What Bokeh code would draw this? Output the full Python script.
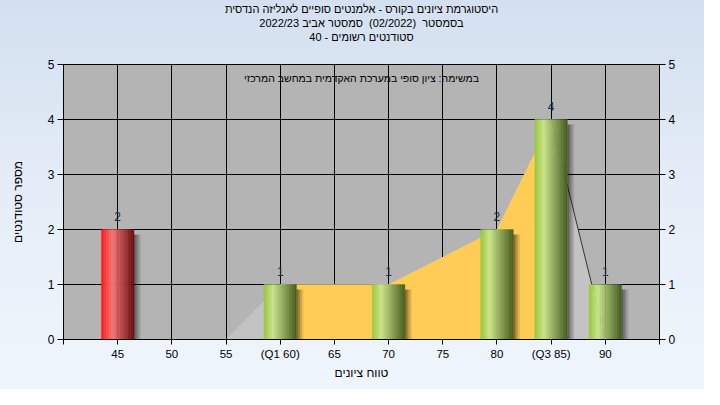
import numpy as np
from bokeh.plotting import figure
from bokeh.models import FixedTicker, LinearAxis, Range1d, Label, Title
from bokeh.core.properties import value
from bokeh.embed import file_html
from bokeh.resources import INLINE

# ---------------- data ----------------
NBSP = "\u00a0"
title_lines = [
    "היסטוגרמת ציונים בקורס - אלמנטים סופיים לאנליזה הנדסית",
    "בסמסטר  (02/2022)  סמסטר אביב 2022/23",
    "סטודנטים רשומים - 40",
]
note_text = "במשימה: ציון סופי במערכת האקדמית במחשב המרכזי"
x_label = "טווח ציונים"
y_label = "מספר סטודנטים"

bar_scores = [45, 60, 70, 80, 85, 90]
bar_counts = [2, 1, 1, 2, 4, 1]
bar_kind = ["fail", "pass", "pass", "pass", "pass", "pass"]

area_scores = [45, 50, 55, 60, 65, 70, 75, 80, 85, 90]
area_values = [0, 0, 0, 1, 1, 1, 1.5, 2, 4, 0]
q1, q3 = 60, 85

x_ticks = [40, 45, 50, 55, 60, 65, 70, 75, 80, 85, 90, 95]
x_tick_labels = ["", "45", "50", "55", "(Q1 60)", "65", "70", "75", "80", "(Q3 85)", "90", ""]
y_ticks = [0, 1, 2, 3, 4, 5]

# ---------------- styling ----------------
FONT = "Liberation Sans"
BAR_W = 3.0
N_STRIPS = 20
GRAD = {
    "fail": [(0.0, (255, 25, 25)), (0.35, (244, 118, 118)), (1.0, (105, 12, 12))],
    "pass": [(0.0, (150, 200, 58)), (0.28, (202, 228, 142)), (1.0, (68, 92, 30))],
}


def grad_color(kind, t):
    stops = GRAD[kind]
    for (t0, c0), (t1, c1) in zip(stops[:-1], stops[1:]):
        if t0 <= t <= t1:
            f = (t - t0) / (t1 - t0)
            c = [int(round(a + (b - a) * f)) for a, b in zip(c0, c1)]
            return "#%02x%02x%02x" % tuple(c)
    return "#%02x%02x%02x" % stops[-1][1]


p = figure(
    width=704, height=389, title=None,
    x_range=Range1d(x_ticks[0], x_ticks[-1]),
    y_range=Range1d(y_ticks[0], y_ticks[-1]),
    output_backend="svg", toolbar_location=None,
    min_border_left=63, min_border_right=45, min_border_top=64, min_border_bottom=50,
)
p.background_fill_color = "#b4b4b4"
p.border_fill_color = None
p.styles = {"background": "linear-gradient(180deg, #d4e0f0 0%, #e6eef8 55%, #eff6fd 100%)"}
p.outline_line_color = "black"
p.outline_line_width = 1

# title: spacer nearest the plot, then one Title per line (bottom line first)
p.add_layout(Title(text=NBSP, text_font_size="11px", standoff=8), "above")
for line in reversed(title_lines):
    p.add_layout(Title(text=line.replace(" ", NBSP), align="center", offset=-9,
                       text_font=FONT, text_font_size="11px", text_font_style="normal",
                       text_color="black", standoff=0), "above")

# grey distribution area and IQR area
p.varea(x=area_scores, y1=0, y2=area_values, fill_color="#c3c3c3")
iqr_x = [s for s in area_scores if q1 <= s <= q3]
iqr_y = [v for s, v in zip(area_scores, area_values) if q1 <= s <= q3]
p.varea(x=iqr_x, y1=0, y2=iqr_y, fill_color="#ffcc55")

low_x = [s for s, v in zip(area_scores, area_values) if s < q1 and v == 0]
low_y = [v for s, v in zip(area_scores, area_values) if s < q1 and v == 0]
p.line(low_x, low_y, line_color="#8c8c8c", line_width=1.2)
up_x = [s for s in area_scores if s >= q3]
up_y = [v for s, v in zip(area_scores, area_values) if s >= q3]
p.line(up_x, up_y, line_color="#333333", line_width=1)

# shadows
sh_x, sh_top, sh_alpha = [], [], []
sw = 0.16
for s, c in zip(bar_scores, bar_counts):
    for j, a in enumerate([0.5, 0.36, 0.22, 0.1]):
        sh_x.append(s + BAR_W / 2 + (j + 0.5) * sw)
        sh_top.append(c - 0.09)
        sh_alpha.append(a)
p.vbar(x=sh_x, top=sh_top, bottom=0, width=sw, fill_color="black",
       fill_alpha=sh_alpha, line_color=None)

# cylinder-shaded bars
bx, btop, bcol = [], [], []
for s, c, k in zip(bar_scores, bar_counts, bar_kind):
    for i in range(N_STRIPS):
        t = (i + 0.5) / N_STRIPS
        bx.append(s - BAR_W / 2 + t * BAR_W)
        btop.append(c)
        bcol.append(grad_color(k, t))
p.vbar(x=bx, top=btop, bottom=0, width=BAR_W / N_STRIPS * 1.1,
       fill_color=bcol, line_color=bcol, line_width=0.3)

# value labels
p.text(x=bar_scores, y=bar_counts, text=[str(c) for c in bar_counts],
       text_align="center", text_baseline="bottom", y_offset=-9,
       text_font=value(FONT), text_font_size="12px", text_color="#1e2c3c")

# note inside plot
p.add_layout(Label(x=(x_ticks[0] + x_ticks[-1]) / 2, y=y_ticks[-1] - 0.24,
                   text=note_text, text_align="center", text_baseline="middle",
                   text_font=FONT, text_font_size="10.5px", text_color="black"))

# axes
right_axis = LinearAxis()
p.add_layout(right_axis, "right")
for ax in [p.yaxis[0], right_axis]:
    ax.ticker = FixedTicker(ticks=y_ticks)
for ax in [p.xaxis[0]]:
    ax.ticker = FixedTicker(ticks=x_ticks)
    ax.major_label_overrides = dict(zip(x_ticks, x_tick_labels))

for ax in p.xaxis + p.yaxis:
    ax.axis_line_color = "black"
    ax.major_tick_line_color = "black"
    ax.major_tick_in = 0
    ax.major_tick_out = 6
    ax.minor_tick_line_color = None
    ax.major_label_text_font = FONT
    ax.major_label_text_font_size = "12px"
    ax.major_label_text_color = "black"
    ax.major_label_standoff = 3
    ax.axis_label_text_font = FONT
    ax.axis_label_text_font_size = "12px"
    ax.axis_label_text_font_style = "normal"
    ax.axis_label_text_color = "black"

p.xaxis[0].major_tick_out = 5
p.xaxis[0].major_label_text_font_size = "11.5px"
p.xaxis[0].axis_label = x_label
p.xaxis[0].axis_label_standoff = 3
p.yaxis[0].axis_label = y_label
p.yaxis[0].axis_label_standoff = 20

p.xgrid.ticker = FixedTicker(ticks=x_ticks)
p.ygrid.ticker = FixedTicker(ticks=y_ticks)
for g in [p.xgrid[0], p.ygrid[0]]:
    g.grid_line_color = "black"
    g.grid_line_width = 1
    g.grid_line_alpha = 1

open("out.html", "w").write(file_html(p, INLINE))
